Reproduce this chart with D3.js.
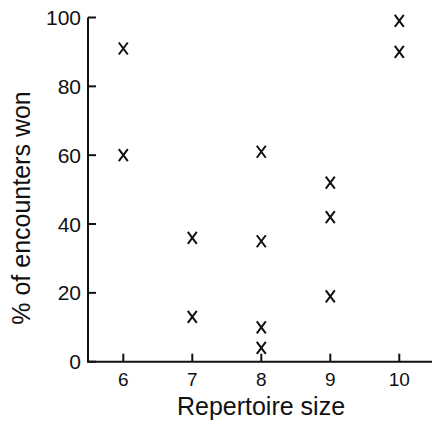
<!DOCTYPE html>
<html>
<head>
<meta charset="utf-8">
<script src="https://cdn.jsdelivr.net/npm/d3@7"></script>
<style>
  body { margin: 0; background: #fff; }
  text { font-family: 'Liberation Sans', Arial, sans-serif; fill: #111; }
</style>
</head>
<body>
<div id="chart"></div>
<script>
// repertoire size of each point and % of encounters won
const sizes = [6, 6, 7, 7, 8, 8, 8, 8, 9, 9, 9, 10, 10];
const won = [91, 60, 36, 13, 61, 35, 10, 4, 52, 42, 19, 99, 90];
const xTicks = [6, 7, 8, 9, 10];
const yTicks = [0, 20, 40, 60, 80, 100];

const width = 433;
const height = 422;

const svg = d3.select('#chart')
  .append('svg')
  .attr('width', width)
  .attr('height', height);

// axis origin sits at (88, 362)
const x = d3.scaleLinear().domain([6, 10]).range([123.3, 399.3]);
const y = d3.scaleLinear().domain([0, 100]).range([361.7, 17.5]);

const ink = '#111';

// y axis
svg.append('line')
  .attr('x1', 88).attr('x2', 88)
  .attr('y1', y(100)).attr('y2', y(0))
  .attr('stroke', ink).attr('stroke-width', 2);

svg.selectAll('.ytick')
  .data(yTicks)
  .enter()
  .append('line')
  .attr('x1', 88).attr('x2', 96)
  .attr('y1', d => y(d)).attr('y2', d => y(d))
  .attr('stroke', ink).attr('stroke-width', 2);

svg.selectAll('.ylab')
  .data(yTicks)
  .enter()
  .append('text')
  .attr('x', 81)
  .attr('y', d => y(d))
  .attr('dy', '0.36em')
  .attr('text-anchor', 'end')
  .style('font-size', '21px')
  .text(d => d);

// x axis
svg.append('line')
  .attr('x1', 87).attr('x2', 432)
  .attr('y1', y(0)).attr('y2', y(0))
  .attr('stroke', ink).attr('stroke-width', 2);

svg.selectAll('.xtick')
  .data(xTicks)
  .enter()
  .append('line')
  .attr('x1', d => x(d)).attr('x2', d => x(d))
  .attr('y1', y(0)).attr('y2', y(0) - 8)
  .attr('stroke', ink).attr('stroke-width', 2);

svg.selectAll('.xlab')
  .data(xTicks)
  .enter()
  .append('text')
  .attr('x', d => x(d))
  .attr('y', 386)
  .attr('text-anchor', 'middle')
  .style('font-size', '19px')
  .text(d => d);

// axis titles
svg.append('text')
  .attr('x', 261)
  .attr('y', 415)
  .attr('text-anchor', 'middle')
  .style('font-size', '25px')
  .text('Repertoire size');

svg.append('text')
  .attr('transform', 'translate(30,208) rotate(-90)')
  .attr('text-anchor', 'middle')
  .style('font-size', '25px')
  .text('% of encounters won');

// cross markers
const pts = sizes.map((s, i) => ({ s: s, v: won[i] }));

svg.selectAll('.pt')
  .data(pts)
  .enter()
  .append('path')
  .attr('transform', d => 'translate(' + x(d.s) + ',' + y(d.v) + ')')
  .attr('d', 'M-4.5,-6L4.5,6M4.5,-6L-4.5,6')
  .attr('fill', 'none')
  .attr('stroke', ink)
  .attr('stroke-width', 2);
</script>
</body>
</html>
